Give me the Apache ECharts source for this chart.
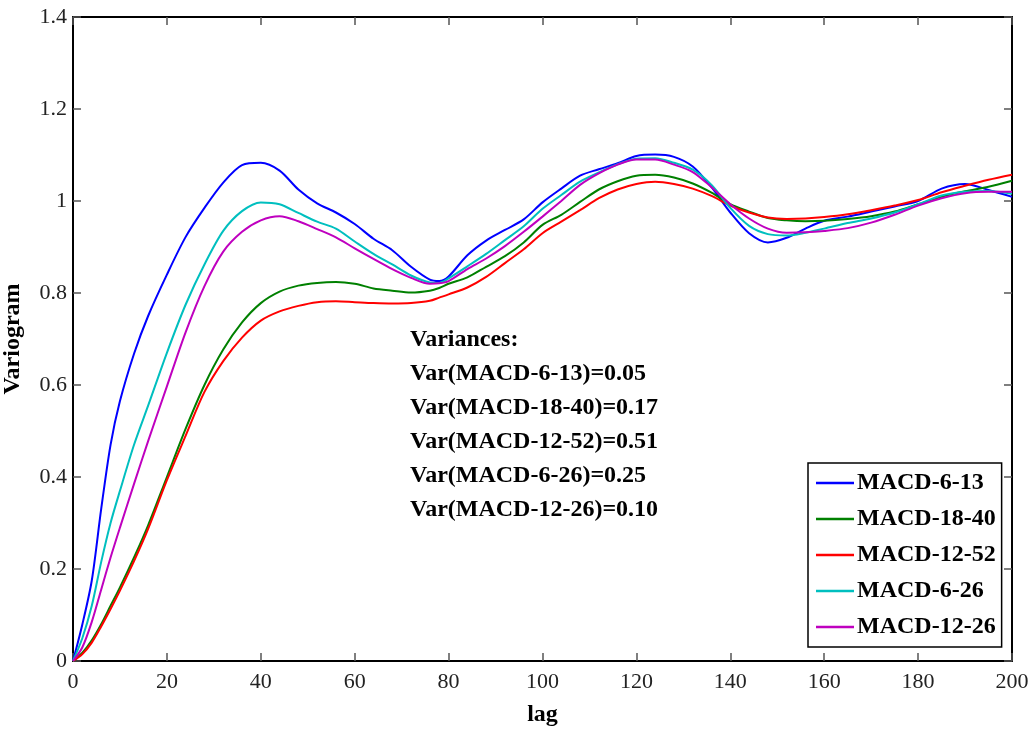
<!DOCTYPE html>
<html>
<head>
<meta charset="utf-8">
<script src="https://cdn.jsdelivr.net/npm/echarts@6/dist/echarts.min.js"></script>
<style>html,body{margin:0;padding:0;background:#fff}#c{width:1036px;height:731px}</style>
</head>
<body>
<div id="c"></div>
<script>
const lags = [0,2,4,6,8,10,13,16,20,24,28,32,36,40,44,48,52,56,60,64,68,72,76,78,80,84,88,92,96,100,104,108,112,116,120,124,128,132,136,140,144,148,152,156,160,165,170,175,180,185,190,195,200];
const macd_6_13 = [0,0.08,0.175,0.33,0.47,0.565,0.668,0.75,0.84,0.922,0.985,1.04,1.078,1.083,1.066,1.025,0.995,0.975,0.95,0.918,0.893,0.857,0.829,0.826,0.836,0.882,0.914,0.937,0.96,0.997,1.027,1.055,1.069,1.082,1.098,1.101,1.096,1.075,1.03,0.975,0.93,0.91,0.92,0.94,0.957,0.966,0.977,0.988,1.0,1.027,1.037,1.024,1.009];
const macd_18_40 = [0,0.018,0.045,0.08,0.12,0.16,0.225,0.295,0.4,0.505,0.6,0.677,0.736,0.778,0.803,0.816,0.822,0.824,0.82,0.81,0.805,0.801,0.805,0.811,0.82,0.834,0.857,0.88,0.91,0.948,0.97,0.998,1.025,1.043,1.055,1.057,1.051,1.038,1.018,0.993,0.977,0.963,0.958,0.956,0.957,0.961,0.967,0.977,0.993,1.009,1.021,1.031,1.044];
const macd_12_52 = [0,0.015,0.04,0.075,0.113,0.153,0.217,0.287,0.393,0.49,0.585,0.652,0.703,0.74,0.76,0.772,0.78,0.782,0.78,0.778,0.777,0.778,0.783,0.79,0.797,0.812,0.835,0.865,0.895,0.93,0.955,0.98,1.006,1.025,1.037,1.042,1.037,1.027,1.011,0.99,0.975,0.964,0.961,0.962,0.965,0.971,0.98,0.99,1.002,1.019,1.033,1.046,1.057];
const macd_6_26 = [0,0.05,0.12,0.215,0.3,0.37,0.47,0.555,0.67,0.775,0.862,0.935,0.978,0.997,0.993,0.974,0.955,0.94,0.912,0.885,0.862,0.838,0.823,0.822,0.832,0.858,0.885,0.915,0.945,0.983,1.013,1.042,1.062,1.08,1.092,1.093,1.083,1.068,1.035,0.985,0.946,0.928,0.925,0.931,0.94,0.952,0.962,0.975,0.993,1.012,1.02,1.022,1.016];
const macd_12_26 = [0,0.03,0.085,0.155,0.225,0.29,0.385,0.478,0.597,0.715,0.815,0.89,0.933,0.958,0.967,0.956,0.939,0.921,0.897,0.874,0.852,0.833,0.82,0.821,0.826,0.852,0.875,0.902,0.933,0.966,1.0,1.035,1.06,1.079,1.09,1.09,1.079,1.063,1.03,0.993,0.962,0.94,0.931,0.932,0.935,0.941,0.953,0.97,0.99,1.006,1.017,1.02,1.02];
const seriesNames = ['MACD-6-13','MACD-18-40','MACD-12-52','MACD-6-26','MACD-12-26'];
const seriesColors = ['#0000ff','#008000','#ff0000','#00bfbf','#bf00bf'];
const seriesValues = [macd_6_13, macd_18_40, macd_12_52, macd_6_26, macd_12_26];
const annotationLines = ['Variances:','Var(MACD-6-13)=0.05','Var(MACD-18-40)=0.17','Var(MACD-12-52)=0.51','Var(MACD-6-26)=0.25','Var(MACD-12-26)=0.10'];

const FONT = 'Liberation Serif';
const chart = echarts.init(document.getElementById('c'), null, {renderer:'canvas'});
const axisCommon = {
  axisLine:{show:true,onZero:false,lineStyle:{color:'#000',width:2}},
  axisTick:{show:true,inside:true,length:8,lineStyle:{color:'#555',width:1.5}},
  splitLine:{show:false}
};
chart.setOption({
  animation:false,
  backgroundColor:'#fff',
  grid:{left:73,right:24,top:17,bottom:70,containLabel:false,outerBoundsMode:'none'},
  xAxis:[
    Object.assign({type:'value',min:0,max:200,interval:20,position:'bottom',
      name:'lag',nameLocation:'middle',nameGap:42,
      nameTextStyle:{fontFamily:FONT,fontSize:24,fontWeight:'bold',color:'#000'},
      axisLabel:{fontFamily:FONT,fontSize:22,color:'#222',margin:10}},axisCommon),
    Object.assign({type:'value',min:0,max:200,interval:20,position:'top',
      axisLabel:{show:false}},axisCommon)
  ],
  yAxis:[
    Object.assign({type:'value',min:0,max:1.4,interval:0.2,position:'left',
      name:'Variogram',nameLocation:'middle',nameGap:48,nameRotate:90,
      nameTextStyle:{fontFamily:FONT,fontSize:24,fontWeight:'bold',color:'#000'},
      axisLabel:{fontFamily:FONT,fontSize:22,color:'#222',margin:6,
        formatter:v=>String(Math.round(v*10)/10)}},axisCommon),
    Object.assign({type:'value',min:0,max:1.4,interval:0.2,position:'right',
      axisLabel:{show:false}},axisCommon)
  ],
  legend:{
    orient:'vertical',left:808,top:463,
    data:seriesNames.map(n=>({name:n,icon:'rect'})),
    backgroundColor:'#fff',borderColor:'#000',borderWidth:1.5,
    padding:[8,6,8,8],itemGap:12,itemWidth:38,itemHeight:2.5,
    textStyle:{fontFamily:FONT,fontSize:24,fontWeight:'bold',color:'#000',padding:[0,0,0,-2],height:24,lineHeight:24}
  },
  graphic:[{
    type:'group',left:410,top:328,
    children:annotationLines.map((t,i)=>({type:'text',x:0,y:i*34,
      style:{text:t,fontFamily:FONT,fontSize:24,fontWeight:'bold',fill:'#000'}}))
  }],
  series:seriesNames.map((n,i)=>({
    name:n,type:'line',smooth:0.3,symbol:'none',
    color:seriesColors[i],
    lineStyle:{width:2,color:seriesColors[i]},
    data:lags.map((l,j)=>[l,seriesValues[i][j]])
  }))
});
</script>
</body>
</html>
